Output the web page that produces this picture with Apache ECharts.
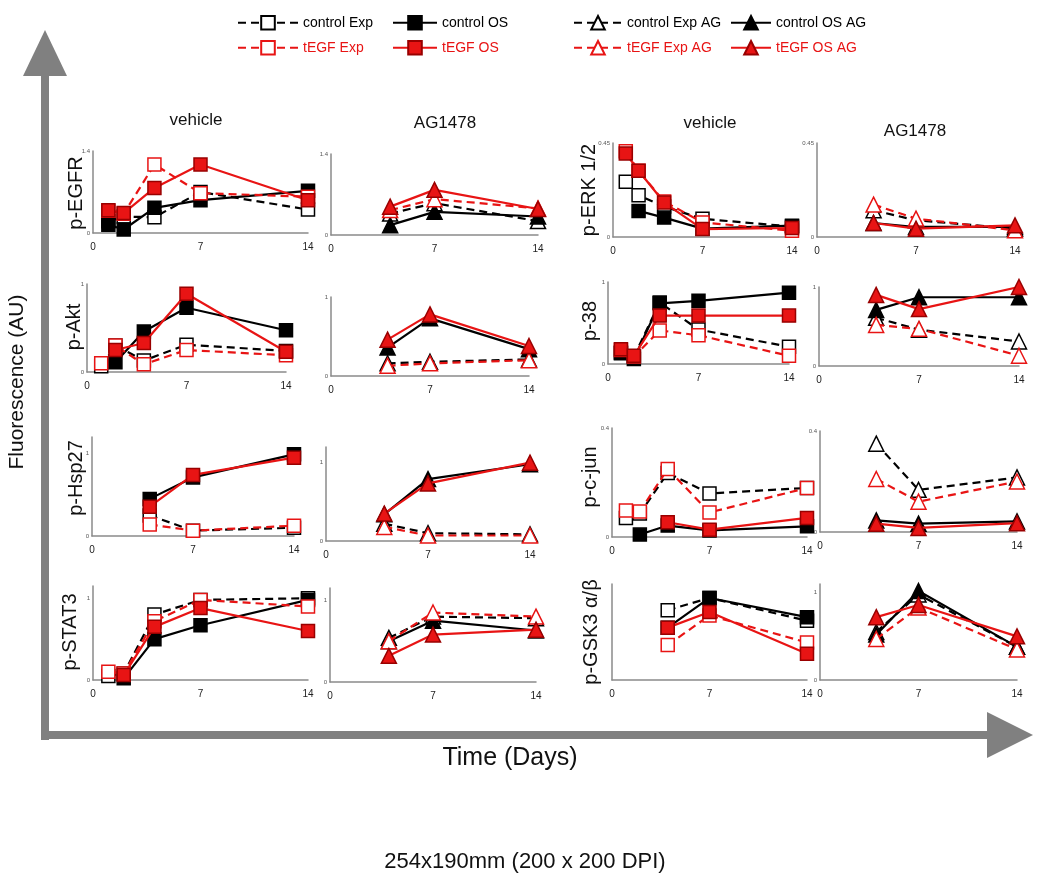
<!DOCTYPE html>
<html>
<head>
<meta charset="utf-8">
<script src="https://cdn.jsdelivr.net/npm/echarts@6/dist/echarts.min.js"></script>
<style>
  body { margin: 0; background: #fff; }
  #chart { width: 1050px; height: 878px; }
</style>
</head>
<body>
<div id="chart"></div>
<script>
// days sampled
const daysVeh = [1, 2, 4, 7, 14];
const daysAG = [4, 7, 14];

// each panel: [control Exp, control OS, tEGF Exp, tEGF OS]  (AG panels use the AG variants)
const egfrVeh = [[0.2, 0.28, 0.27, 0.7, 0.4], [0.14, 0.06, 0.43, 0.56, 0.72], [0.38, 0.33, 1.17, 0.68, 0.62], [0.39, 0.34, 0.77, 1.17, 0.56]];
const egfrAG = [[0.37, 0.55, 0.24], [0.17, 0.4, 0.32], [0.43, 0.62, 0.46], [0.49, 0.78, 0.45]];
const erkVeh = [[0.265, 0.2, 0.146, 0.087, 0.05], [null, 0.125, 0.093, 0.04, 0.054], [0.41, 0.317, 0.17, 0.07, 0.03], [0.4, 0.317, 0.165, 0.038, 0.043]];
const erkAG = [[0.128, 0.08, 0.04], [0.067, 0.048, 0.048], [0.155, 0.088, 0.032], [0.067, 0.04, 0.056]];
const aktVeh = [[0.065, 0.3, 0.13, 0.31, 0.24], [null, 0.11, 0.46, 0.73, 0.475], [0.1, 0.3, 0.087, 0.25, 0.19], [null, 0.25, 0.33, 0.89, 0.23]];
const aktAG = [[0.16, 0.18, 0.21], [0.36, 0.73, 0.34], [0.13, 0.16, 0.2], [0.46, 0.78, 0.38]];
const p38Veh = [[0.14, 0.09, 0.75, 0.42, 0.21], [0.13, 0.06, 0.74, 0.77, 0.87], [0.17, 0.09, 0.41, 0.35, 0.1], [0.18, 0.1, 0.59, 0.59, 0.59]];
const p38AG = [[0.61, 0.46, 0.31], [0.71, 0.87, 0.87], [0.52, 0.47, 0.13], [0.9, 0.72, 1.0]];
const hspVeh = [[null, null, 0.25, 0.065, 0.1], [null, null, 0.45, 0.71, 0.99], [null, null, 0.14, 0.065, 0.125], [null, null, 0.355, 0.74, 0.95]];
const hspAG = [[0.22, 0.1, 0.085], [0.34, 0.79, 0.98], [0.18, 0.07, 0.07], [0.35, 0.735, 1.0]];
const cjunVeh = [[0.07, 0.086, 0.235, 0.16, 0.18], [null, 0.009, 0.042, 0.024, 0.039], [0.097, 0.094, 0.25, 0.09, 0.18], [null, null, 0.054, 0.027, 0.07]];
const cjunAG = [[0.35, 0.167, 0.216], [0.046, 0.033, 0.042], [0.21, 0.12, 0.2], [0.033, 0.016, 0.035]];
const statVeh = [[0.05, 0.08, 0.8, 0.98, 1.0], [null, 0.02, 0.5, 0.67, 0.98], [0.1, 0.08, 0.72, 0.98, 0.9], [null, 0.06, 0.65, 0.88, 0.6]];
const statAG = [[0.54, 0.8, 0.78], [0.5, 0.75, 0.63], [0.5, 0.85, 0.8], [0.32, 0.58, 0.64]];
const gskVeh = [[null, null, 0.8, 0.94, 0.68], [null, null, 0.6, 0.94, 0.72], [null, null, 0.4, 0.74, 0.43], [null, null, 0.6, 0.78, 0.3]];
const gskAG = [[0.55, 0.98, 0.38], [0.52, 1.02, 0.38], [0.47, 0.83, 0.35], [0.72, 0.86, 0.5]];

const vehNames = ['control Exp', 'control OS', 'tEGF Exp', 'tEGF OS'];
const agNames = ['control Exp AG', 'control OS AG', 'tEGF Exp AG', 'tEGF OS AG'];
const xTicks = [0, 7, 14];

const RED = '#e81414';
const FONT = 'Liberation Sans, Arial, sans-serif';

// layout: x0/x14 pixel, top (y max) / bottom (y 0); nx/ny = centre of the row label
const panels = [
  { d: egfrVeh, ag: false, x0: 93, x1: 308, top: 151, bot: 233, max: 1.4, lab: [0, 1.4], name: 'p-EGFR', nx: 76, ny: 193 },
  { d: egfrAG, ag: true, x0: 331, x1: 538, top: 154, bot: 235, max: 1.4, lab: [0, 1.4] },
  { d: erkVeh, ag: false, x0: 613, x1: 792, top: 143, bot: 237, max: 0.45, lab: [0, 0.45], name: 'p-ERK 1/2', nx: 589, ny: 190 },
  { d: erkAG, ag: true, x0: 817, x1: 1015, top: 143, bot: 237, max: 0.45, lab: [0, 0.45] },
  { d: aktVeh, ag: false, x0: 87, x1: 286, top: 284, bot: 372, max: 1, lab: [0, 1], name: 'p-Akt', nx: 74, ny: 327 },
  { d: aktAG, ag: true, x0: 331, x1: 529, top: 297, bot: 376, max: 1, lab: [0, 1] },
  { d: p38Veh, ag: false, x0: 608, x1: 789, top: 282, bot: 364, max: 1, lab: [0, 1], name: 'p-38', nx: 590, ny: 321 },
  { d: p38AG, ag: true, x0: 819, x1: 1019, top: 287, bot: 366, max: 1, lab: [0, 1] },
  { d: hspVeh, ag: false, x0: 92, x1: 294, top: 437, bot: 536, max: 1.2, lab: [0, 1], name: 'p-Hsp27', nx: 76, ny: 478 },
  { d: hspAG, ag: true, x0: 326, x1: 530, top: 447, bot: 541, max: 1.2, lab: [0, 1] },
  { d: cjunVeh, ag: false, x0: 612, x1: 807, top: 428, bot: 537, max: 0.4, lab: [0, 0.4], name: 'p-c-jun', nx: 590, ny: 477 },
  { d: cjunAG, ag: true, x0: 820, x1: 1017, top: 431, bot: 532, max: 0.4, lab: [0, 0.4] },
  { d: statVeh, ag: false, x0: 93, x1: 308, top: 586, bot: 680, max: 1.15, lab: [0, 1], name: 'p-STAT3', nx: 70, ny: 632 },
  { d: statAG, ag: true, x0: 330, x1: 536, top: 588, bot: 682, max: 1.15, lab: [0, 1] },
  { d: gskVeh, ag: false, x0: 612, x1: 807, top: 584, bot: 680, max: 1.1, lab: [], name: 'p-GSK3 \u03b1/\u03b2', nx: 591, ny: 632 },
  { d: gskAG, ag: true, x0: 820, x1: 1017, top: 584, bot: 680, max: 1.1, lab: [0, 1] }
];

function styleFor(k, ag) {
  const red = k >= 2;
  const filled = k % 2 === 1;
  const c = red ? RED : '#000';
  return {
    symbol: ag ? 'triangle' : 'rect',
    symbolSize: ag ? 15 : 13,
    lineStyle: { color: c, width: 2.2, type: filled ? 'solid' : [8, 5] },
    itemStyle: {
      color: filled ? c : '#fff',
      borderColor: filled ? (red ? '#900' : '#000') : c,
      borderWidth: 1.5
    }
  };
}

const grid = [], xAxis = [], yAxis = [], series = [], names = [];
panels.forEach((p, gi) => {
  grid.push({ left: p.x0, top: p.top, width: p.x1 - p.x0, height: p.bot - p.top });
  xAxis.push({
    type: 'value', gridIndex: gi, min: 0, max: 14, interval: 7,
    axisLine: { lineStyle: { color: '#8a8a8a', width: 1.5 } },
    axisTick: { show: false }, splitLine: { show: false },
    axisLabel: { color: '#222', fontSize: 10, fontFamily: FONT, margin: 9, customValues: xTicks }
  });
  yAxis.push({
    type: 'value', gridIndex: gi, min: 0, max: p.max,
    axisLine: { show: true, lineStyle: { color: '#8a8a8a', width: 1.5 } },
    axisTick: { show: false }, splitLine: { show: false },
    axisLabel: { color: '#555', fontSize: 6, fontFamily: FONT, margin: 3, customValues: p.lab }
  });
  if (p.name) {
    names.push({ type: 'text', x: p.nx, y: p.ny, rotation: Math.PI / 2,
      style: { text: p.name, fontSize: 20, fill: '#111', fontFamily: FONT, align: 'center', verticalAlign: 'middle' } });
  }
  const days = p.ag ? daysAG : daysVeh;
  const sNames = p.ag ? agNames : vehNames;
  p.d.forEach((vals, k) => {
    const pts = [];
    vals.forEach((v, i) => { if (v !== null) pts.push([days[i], v]); });
    series.push(Object.assign({
      type: 'line', name: sNames[k], xAxisIndex: gi, yAxisIndex: gi,
      data: pts, animation: false, z: 2 + k
    }, styleFor(k, p.ag)));
  });
});

// legend: one component per entry so each sits where the reference puts it
const legendSpots = [
  ['control Exp', 237, 15, 60, '#000'], ['control OS', 392, 15, 44, '#000'],
  ['control Exp AG', 573, 15, 48, '#000'], ['control OS AG', 730, 15, 40, '#000'],
  ['tEGF Exp', 237, 40, 60, RED], ['tEGF OS', 392, 40, 44, RED],
  ['tEGF Exp AG', 573, 40, 48, RED], ['tEGF OS AG', 730, 40, 40, RED]
];
const legend = legendSpots.map(([n, l, t, w, c]) => ({
  data: [n], left: l, top: t, itemWidth: w, itemHeight: 17, selectedMode: false,
  textStyle: { fontSize: 14, color: c, fontFamily: FONT }, padding: 0
}));

const title = [
  { text: 'vehicle', left: 196, top: 112 },
  { text: 'AG1478', left: 445, top: 115 },
  { text: 'vehicle', left: 710, top: 115 },
  { text: 'AG1478', left: 915, top: 123 }
].map(t => ({
  text: t.text, left: t.left, top: t.top, textAlign: 'center', padding: 0,
  textStyle: { fontSize: 17, fontWeight: 'normal', color: '#111', fontFamily: FONT }
}));

const GRAY = '#808080';
const chart = echarts.init(document.getElementById('chart'));
chart.setOption({
  backgroundColor: '#fff',
  animation: false,
  title, legend, grid, xAxis, yAxis, series,
  graphic: [
    { type: 'rect', shape: { x: 41, y: 70, width: 8, height: 670 }, style: { fill: GRAY } },
    { type: 'polygon', shape: { points: [[45, 30], [23, 76], [67, 76]] }, style: { fill: GRAY } },
    { type: 'rect', shape: { x: 41, y: 731, width: 950, height: 8 }, style: { fill: GRAY } },
    { type: 'polygon', shape: { points: [[1033, 735], [987, 712], [987, 758]] }, style: { fill: GRAY } },
    { type: 'text', x: 17, y: 382, rotation: Math.PI / 2,
      style: { text: 'Fluorescence (AU)', fontSize: 21, fill: '#111', fontFamily: FONT, align: 'center', verticalAlign: 'middle' } },
    { type: 'text', x: 510, y: 758,
      style: { text: 'Time (Days)', fontSize: 25, fill: '#111', fontFamily: FONT, align: 'center', verticalAlign: 'middle' } },
    { type: 'text', x: 525, y: 862,
      style: { text: '254x190mm (200 x 200 DPI)', fontSize: 22, fill: '#111', fontFamily: FONT, align: 'center', verticalAlign: 'middle' } }
  ].concat(names)
});
</script>
</body>
</html>
